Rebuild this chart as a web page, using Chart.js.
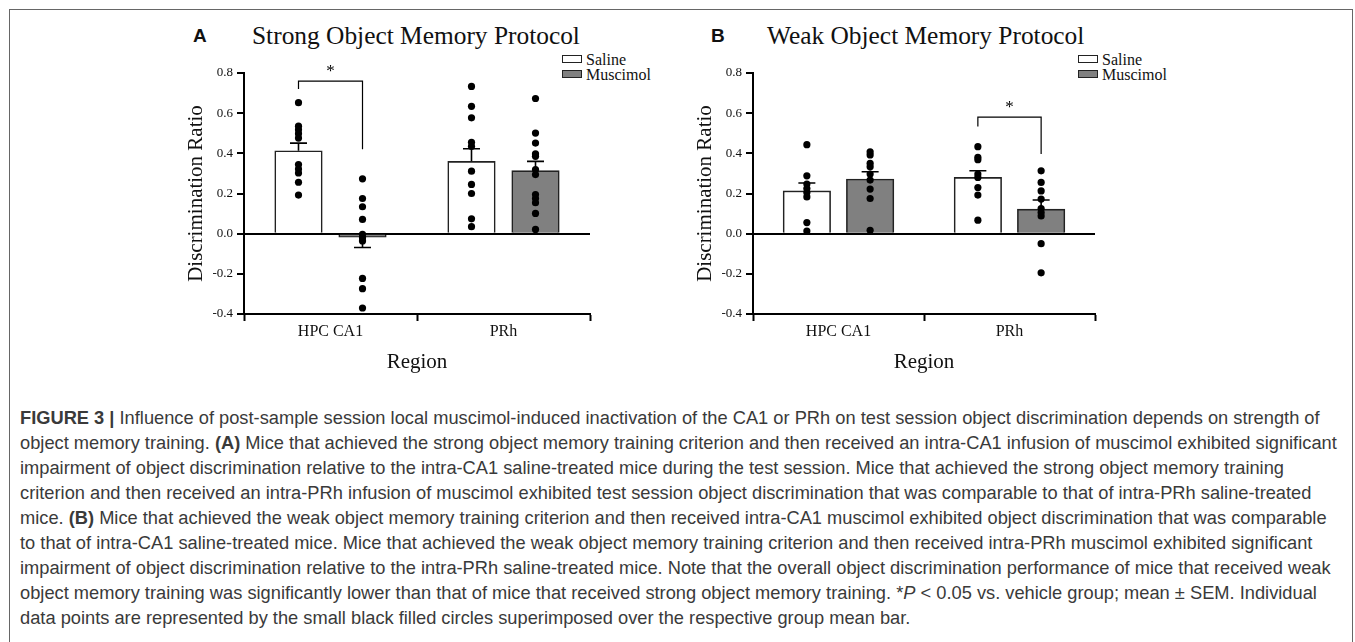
<!DOCTYPE html>
<html>
<head>
<meta charset="utf-8">
<script src="https://cdn.jsdelivr.net/npm/chart.js@4.4.0/dist/chart.umd.min.js"></script>
<style>
  body { margin: 0; background: #fff; width: 1355px; height: 642px; overflow: hidden; position: relative; }
  #frame { position: absolute; left: 9px; top: 9px; width: 1342px; height: 700px; border: 1px solid #666; }
  .panel { position: absolute; font-family: "Liberation Sans", Arial, sans-serif; font-weight: bold; font-size: 19px; line-height: 30px; color: #111; }
  .title { position: absolute; font-family: "Liberation Serif", serif; font-size: 25.4px; line-height: 30px; color: #111; white-space: nowrap; }
  .legend { position: absolute; font-family: "Liberation Serif", serif; font-size: 16px; line-height: 15px; color: #111; }
  .legend div { height: 15px; white-space: nowrap; }
  .legend span { display: inline-block; width: 18px; height: 6px; border: 1.5px solid #222; margin-right: 4px; vertical-align: 2px; }
  canvas { position: absolute; }
  #caption { position: absolute; left: 20px; top: 405px; font-family: "Liberation Sans", Arial, sans-serif; font-size: 16px; line-height: 25px; color: #3a3a3a; }
  #caption div { white-space: nowrap; }
</style>
</head>
<body>
<div id="frame"></div>

<div class="panel" style="left:193px; top:21px;">A</div>
<div class="title" style="left:252px; top:20px;">Strong Object Memory Protocol</div>
<div class="legend" style="left:562px; top:52px;">
  <div><span style="background:#fff"></span>Saline</div>
  <div><span style="background:#808080"></span>Muscimol</div>
</div>
<canvas id="chartA" width="460" height="330" style="left:150px; top:50px;"></canvas>

<div class="panel" style="left:711px; top:21px;">B</div>
<div class="title" style="left:767px; top:20px;">Weak Object Memory Protocol</div>
<div class="legend" style="left:1078px; top:52px;">
  <div><span style="background:#fff"></span>Saline</div>
  <div><span style="background:#808080"></span>Muscimol</div>
</div>
<canvas id="chartB" width="460" height="330" style="left:660px; top:50px;"></canvas>

<div id="caption">
  <div id="cap1"><b>FIGURE 3 |</b> Influence of post-sample session local muscimol-induced inactivation of the CA1 or PRh on test session object discrimination depends on strength of</div>
  <div>object memory training. <b>(A)</b> Mice that achieved the strong object memory training criterion and then received an intra-CA1 infusion of muscimol exhibited significant</div>
  <div>impairment of object discrimination relative to the intra-CA1 saline-treated mice during the test session. Mice that achieved the strong object memory training</div>
  <div>criterion and then received an intra-PRh infusion of muscimol exhibited test session object discrimination that was comparable to that of intra-PRh saline-treated</div>
  <div>mice. <b>(B)</b> Mice that achieved the weak object memory training criterion and then received intra-CA1 muscimol exhibited object discrimination that was comparable</div>
  <div>to that of intra-CA1 saline-treated mice. Mice that achieved the weak object memory training criterion and then received intra-PRh muscimol exhibited significant</div>
  <div>impairment of object discrimination relative to the intra-PRh saline-treated mice. Note that the overall object discrimination performance of mice that received weak</div>
  <div>object memory training was significantly lower than that of mice that received strong object memory training. *<i>P</i> &lt; 0.05 vs. vehicle group; mean ± SEM. Individual</div>
  <div>data points are represented by the small black filled circles superimposed over the respective group mean bar.</div>
</div>

<script>
const regions = ['HPC CA1', 'PRh'];
const groupNames = ['Saline', 'Muscimol'];
const yTicks = [-0.4, -0.2, 0.0, 0.2, 0.4, 0.6, 0.8];

// panel A - strong object memory protocol
const strongSalineMean = [0.413, 0.360];
const strongSalineSem = [0.038, 0.063];
const strongMuscimolMean = [-0.017, 0.314];
const strongMuscimolSem = [0.052, 0.046];
const strongSalineHpc = [0.652, 0.535, 0.517, 0.498, 0.476, 0.344, 0.322, 0.302, 0.256, 0.192];
const strongSalinePrh = [0.733, 0.634, 0.577, 0.455, 0.435, 0.311, 0.245, 0.200, 0.074, 0.035];
const strongMuscimolHpc = [0.273, 0.175, 0.134, 0.071, -0.003, -0.020, -0.036, -0.223, -0.274, -0.370];
const strongMuscimolPrh = [0.673, 0.501, 0.451, 0.397, 0.385, 0.319, 0.294, 0.195, 0.175, 0.154, 0.101, 0.021];
const strongBracket = [0, 0.76, 0.72, 0.42]; // region, top, left end, right end

// panel B - weak object memory protocol
const weakSalineMean = [0.213, 0.280];
const weakSalineSem = [0.039, 0.033];
const weakMuscimolMean = [0.272, 0.122];
const weakMuscimolSem = [0.036, 0.046];
const weakSalineHpc = [0.443, 0.288, 0.247, 0.225, 0.205, 0.183, 0.055, 0.013];
const weakSalinePrh = [0.433, 0.380, 0.368, 0.297, 0.280, 0.230, 0.192, 0.067];
const weakMuscimolHpc = [0.408, 0.392, 0.350, 0.333, 0.297, 0.267, 0.222, 0.175, 0.017];
const weakMuscimolPrh = [0.313, 0.255, 0.213, 0.172, 0.125, 0.105, 0.088, -0.050, -0.195];
const weakBracket = [1, 0.58, 0.533, 0.397];

const groupOffset = 0.185; // bar centre distance from region centre, in region units
const serif = '"Liberation Serif", "Times New Roman", serif';

// fit caption font so the first line is as wide as in the figure
(function () {
  const cap = document.getElementById('caption');
  const w = document.getElementById('cap1').getBoundingClientRect().width;
  cap.style.fontSize = (16 * 1318 / w).toFixed(2) + 'px';
})();

function place(values, region, group) {
  const x = region + (group === 0 ? -groupOffset : groupOffset);
  return values.map(v => ({ x: x, y: v }));
}
function barData(means, group) {
  return means.map((m, i) => ({ x: i + (group === 0 ? -groupOffset : groupOffset), y: m }));
}

const errorBars = {
  id: 'errorBars',
  afterDatasetsDraw(chart, args, opts) {
    const ctx = chart.ctx;
    const y = chart.scales.y;
    ctx.save();
    ctx.strokeStyle = '#000';
    ctx.lineWidth = 1.6;
    [0, 1].forEach(d => {
      const meta = chart.getDatasetMeta(d);
      const pts = chart.data.datasets[d].data;
      const sems = opts.sems[d];
      meta.data.forEach((bar, i) => {
        const m = pts[i].y;
        const end = m >= 0 ? m + sems[i] : m - sems[i];
        const y0 = y.getPixelForValue(m);
        const y1 = y.getPixelForValue(end);
        ctx.beginPath();
        ctx.moveTo(bar.x, y0);
        ctx.lineTo(bar.x, y1);
        ctx.moveTo(bar.x - 8.5, y1);
        ctx.lineTo(bar.x + 8.5, y1);
        ctx.stroke();
      });
    });
    // significance bracket
    const br = opts.bracket;
    const xl = chart.getDatasetMeta(0).data[br[0]].x;
    const xr = chart.getDatasetMeta(1).data[br[0]].x;
    const yt = y.getPixelForValue(br[1]);
    ctx.lineWidth = 1.2;
    ctx.beginPath();
    ctx.moveTo(xl, y.getPixelForValue(br[2]));
    ctx.lineTo(xl, yt);
    ctx.lineTo(xr, yt);
    ctx.lineTo(xr, y.getPixelForValue(br[3]));
    ctx.stroke();
    ctx.fillStyle = '#000';
    ctx.font = '17px ' + serif;
    ctx.textAlign = 'center';
    ctx.textBaseline = 'bottom';
    ctx.fillText('*', (xl + xr) / 2, yt - 1);
    ctx.restore();
  }
};

function makeChart(id, salineMean, muscimolMean, sems, pts, bracket, geo) {
  const dotStyle = { type: 'scatter', order: 0, pointRadius: 3.6, pointBackgroundColor: '#000', pointBorderWidth: 0, showLine: false };
  const barStyle = { type: 'bar', order: 1, grouped: false, barThickness: 47.5, borderColor: '#222', borderWidth: 1.6 };
  return new Chart(document.getElementById(id), {
    type: 'bar',
    data: {
      datasets: [
        Object.assign({ label: groupNames[0], data: barData(salineMean, 0), backgroundColor: '#fff' }, barStyle),
        Object.assign({ label: groupNames[1], data: barData(muscimolMean, 1), backgroundColor: '#808080' }, barStyle),
        Object.assign({ data: place(pts[0], 0, 0) }, dotStyle),
        Object.assign({ data: place(pts[1], 1, 0) }, dotStyle),
        Object.assign({ data: place(pts[2], 0, 1) }, dotStyle),
        Object.assign({ data: place(pts[3], 1, 1) }, dotStyle)
      ]
    },
    options: {
      responsive: false,
      animation: false,
      layout: { padding: { top: 23, right: geo.right, left: 0, bottom: 0 } },
      plugins: {
        legend: { display: false },
        tooltip: { enabled: false },
        errorBars: { sems: sems, bracket: bracket }
      },
      scales: {
        x: {
          type: 'linear',
          min: -0.5,
          max: 1.5,
          offset: false,
          afterBuildTicks: s => { s.ticks = regions.map((r, i) => ({ value: i })); },
          grid: { drawOnChartArea: false, tickLength: 7, tickColor: '#000', tickWidth: 2 },
          border: { color: '#000', width: 2 },
          ticks: { color: '#111', padding: 1, font: { family: serif, size: 16 }, callback: v => regions[v] },
          title: { display: true, text: 'Region', color: '#111', font: { family: serif, size: 21 }, padding: { top: 0, bottom: 5 } },
          afterFit: s => { s.height = 66; }
        },
        y: {
          type: 'linear',
          min: yTicks[0],
          max: yTicks[yTicks.length - 1],
          afterBuildTicks: s => { s.ticks = yTicks.map(v => ({ value: v })); },
          grid: {
            color: c => (c.tick && Math.abs(c.tick.value) < 1e-9) ? '#000' : 'rgba(0,0,0,0)',
            lineWidth: 2, tickColor: '#000', tickLength: 7, tickWidth: 2
          },
          border: { color: '#000', width: 2 },
          ticks: { color: '#111', padding: 4, font: { family: serif, size: 13 }, callback: v => v.toFixed(1) },
          title: { display: true, text: 'Discrimination Ratio', color: '#111', font: { family: serif, size: 21 }, padding: { top: geo.titlePad, bottom: 0 } },
          afterFit: s => { s.width = geo.yWidth; }
        }
      }
    },
    plugins: [errorBars]
  });
}

makeChart('chartA', strongSalineMean, strongMuscimolMean,
  [strongSalineSem, strongMuscimolSem],
  [strongSalineHpc, strongSalinePrh, strongMuscimolHpc, strongMuscimolPrh],
  strongBracket, { right: 20, yWidth: 94, titlePad: 34 });

makeChart('chartB', weakSalineMean, weakMuscimolMean,
  [weakSalineSem, weakMuscimolSem],
  [weakSalineHpc, weakSalinePrh, weakMuscimolHpc, weakMuscimolPrh],
  weakBracket, { right: 25, yWidth: 93, titlePad: 33 });
</script>
</body>
</html>
